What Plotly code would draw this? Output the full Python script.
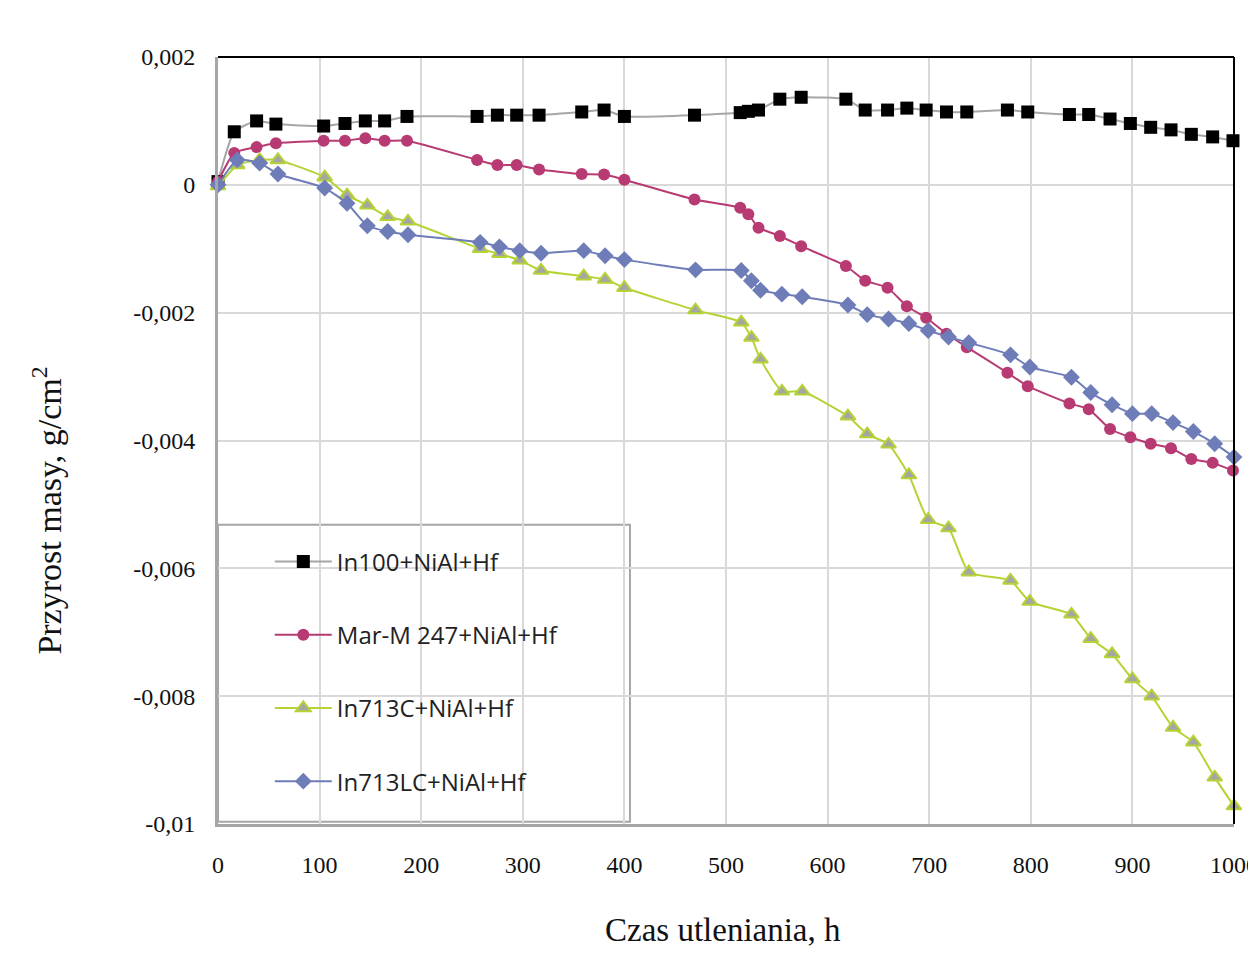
import plotly.graph_objects as go

# Oxidation time, h (sampling points for the two groups of specimens)
hours_a = [0, 16, 38, 57, 104, 125, 145, 164, 186, 255, 275, 294, 316, 358, 380, 400,
           469, 514, 522, 532, 553, 574, 618, 637, 659, 678, 697, 717, 737, 777, 797,
           838, 857, 878, 898, 918, 938, 958, 979, 999]
hours_b = [0, 19, 41, 59, 105, 127, 147, 167, 187, 258, 277, 297, 318, 360, 381, 400,
           470, 515, 525, 534, 555, 575, 620, 639, 660, 680, 699, 719, 739, 780, 799,
           840, 859, 880, 900, 919, 940, 960, 981, 1000]

# Mass change, g/cm2
in100 = [0.00005, 0.00083, 0.00100, 0.00095, 0.00092, 0.00096, 0.00100, 0.00100,
         0.00107, 0.00107, 0.00109, 0.00109, 0.00109, 0.00114, 0.00117, 0.00107,
         0.00109, 0.00113, 0.00115, 0.00117, 0.00134, 0.00137, 0.00134, 0.00117,
         0.00117, 0.00120, 0.00117, 0.00114, 0.00114, 0.00117, 0.00114, 0.00110,
         0.00110, 0.00103, 0.00096, 0.00090, 0.00086, 0.00079, 0.00075, 0.00069]
marm247 = [0.00005, 0.00050, 0.00059, 0.00065, 0.00069, 0.00069, 0.00073, 0.00069,
           0.00069, 0.00039, 0.00031, 0.00031, 0.00024, 0.00017, 0.00016, 0.00008,
           -0.00023, -0.00036, -0.00046, -0.00067, -0.00080, -0.00096, -0.00127, -0.00150,
           -0.00161, -0.00190, -0.00208, -0.00233, -0.00254, -0.00294, -0.00315, -0.00342,
           -0.00351, -0.00382, -0.00395, -0.00405, -0.00412, -0.00429, -0.00435, -0.00447]
in713c = [-0.00002, 0.00031, 0.00039, 0.00039, 0.00012, -0.00016, -0.00032, -0.00050,
          -0.00057, -0.00100, -0.00108, -0.00118, -0.00134, -0.00143, -0.00148, -0.00161,
          -0.00196, -0.00215, -0.00239, -0.00273, -0.00323, -0.00323, -0.00362, -0.00390,
          -0.00406, -0.00454, -0.00524, -0.00537, -0.00606, -0.00619, -0.00652, -0.00672,
          -0.00710, -0.00734, -0.00773, -0.00800, -0.00849, -0.00872, -0.00927, -0.00972]
in713lc = [0.0, 0.00039, 0.00034, 0.00017, -0.00005, -0.00029, -0.00064, -0.00073,
           -0.00078, -0.00090, -0.00097, -0.00103, -0.00107, -0.00103, -0.00111, -0.00117,
           -0.00133, -0.00134, -0.00150, -0.00165, -0.00171, -0.00175, -0.00188, -0.00203,
           -0.00210, -0.00217, -0.00228, -0.00238, -0.00247, -0.00266, -0.00285, -0.00301,
           -0.00325, -0.00344, -0.00358, -0.00358, -0.00372, -0.00386, -0.00405, -0.00426]

series_names = ["In100+NiAl+Hf", "Mar-M 247+NiAl+Hf", "In713C+NiAl+Hf", "In713LC+NiAl+Hf"]

x_ticks = [0, 100, 200, 300, 400, 500, 600, 700, 800, 900, 1000]
x_tick_text = ["0", "100", "200", "300", "400", "500", "600", "700", "800", "900", "1000"]
y_ticks = [0.002, 0.0, -0.002, -0.004, -0.006, -0.008, -0.01]
y_tick_text = ["0,002", "0", "-0,002", "-0,004", "-0,006", "-0,008", "-0,01"]

fig = go.Figure()

styles = [
    dict(x=hours_a, y=in100, line=dict(color="#A6A6A6", width=2),
         marker=dict(symbol="square", size=13, color="#000000")),
    dict(x=hours_a, y=marm247, line=dict(color="#B83A73", width=2),
         marker=dict(symbol="circle", size=12, color="#B83A73")),
    dict(x=hours_b, y=in713c, line=dict(color="#B4D334", width=2),
         marker=dict(symbol="triangle-up", size=13, color="#A5A5A5",
                     line=dict(color="#B4D334", width=2))),
    dict(x=hours_b, y=in713lc, line=dict(color="#6E7DB8", width=2),
         marker=dict(symbol="diamond", size=13, color="#6E7DB8")),
]

for name, st in zip(series_names, styles):
    st["line"].update(shape="spline", smoothing=0.5)
    fig.add_trace(go.Scatter(
        x=st["x"], y=st["y"], name=name, mode="lines+markers",
        line=st["line"], marker=st["marker"], cliponaxis=False,
        legendgroup=name,
    ))

serif = "Liberation Serif, Times New Roman, serif"

fig.update_layout(
    width=1248, height=960, autosize=False,
    margin=dict(l=218, r=14, t=57, b=136),
    paper_bgcolor="white", plot_bgcolor="white",
    showlegend=True,
    legend=dict(
        x=0.051, y=0.371, xanchor="left", yanchor="top",
        bgcolor="rgba(0,0,0,0)", borderwidth=0,
        font=dict(family="Open Sans, Liberation Sans, sans-serif", size=24, color="#222222"),
        itemwidth=57, tracegroupgap=39,
    ),
    xaxis=dict(
        range=[0, 1000], tickvals=x_ticks, ticktext=x_tick_text,
        showgrid=True, gridcolor="#D9D9D9", gridwidth=2,
        zeroline=False, showline=True, linecolor="#A6A6A6", linewidth=3,
        ticks="", ticklabelstandoff=17, ticklabeloverflow="allow", automargin=False,
        tickfont=dict(family=serif, size=24, color="#111111"),
    ),
    yaxis=dict(
        range=[-0.01, 0.002], tickvals=y_ticks, ticktext=y_tick_text,
        showgrid=True, gridcolor="#D9D9D9", gridwidth=2,
        zeroline=False, showline=True, linecolor="#A6A6A6", linewidth=3,
        ticks="", ticklabelstandoff=15, automargin=False,
        tickfont=dict(family=serif, size=24, color="#111111"),
    ),
    shapes=[
        # legend frame, hiding the grid behind it
        dict(type="rect", xref="paper", yref="paper", x0=0.0, x1=0.4055, y0=0.003, y1=0.39,
             layer="between", fillcolor="white", line=dict(color="#A6A6A6", width=2)),
        # dark top and right edges of the plot frame
        dict(type="line", xref="paper", yref="paper", x0=0, x1=1, y0=1, y1=1,
             line=dict(color="#000000", width=2)),
        dict(type="line", xref="paper", yref="paper", x0=1, x1=1, y0=0, y1=1,
             line=dict(color="#000000", width=2)),
    ],
    annotations=[
        dict(text="Czas utleniania, h", xref="paper", yref="paper", x=0.497, y=-0.138,
             xanchor="center", yanchor="middle", showarrow=False,
             font=dict(family=serif, size=33, color="#111111")),
        dict(text="Przyrost masy, g/cm<sup>2</sup>", xref="paper", yref="paper",
             x=-0.168, y=0.409, xanchor="center", yanchor="middle", textangle=-90,
             showarrow=False, font=dict(family=serif, size=34, color="#111111")),
    ],
)

fig.write_html("out.html")
